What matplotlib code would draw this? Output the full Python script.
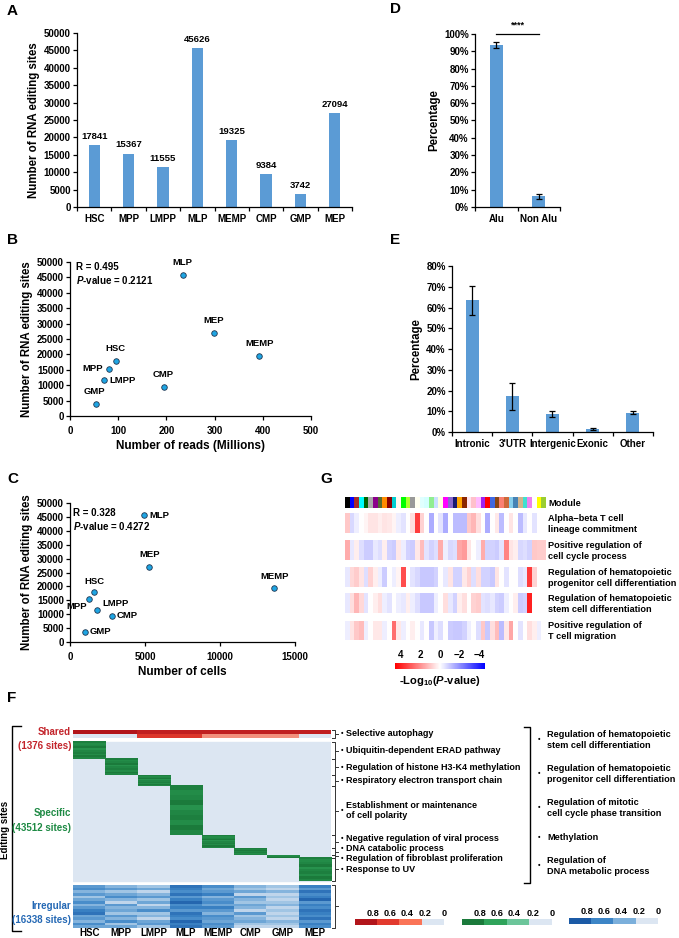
import numpy as np
import matplotlib
matplotlib.use('Agg')
import matplotlib.pyplot as plt
from matplotlib.colors import LinearSegmentedColormap, ListedColormap, Normalize
from matplotlib.cm import ScalarMappable
from matplotlib.patches import Rectangle
from matplotlib.ticker import FuncFormatter

plt.rcParams['font.family'] = ['Liberation Sans', 'DejaVu Sans']
plt.rcParams['font.weight'] = 'bold'
plt.rcParams['axes.labelweight'] = 'bold'
plt.rcParams['mathtext.fontset'] = 'custom'
plt.rcParams['mathtext.rm'] = 'Liberation Sans:bold'
plt.rcParams['mathtext.it'] = 'Liberation Sans:italic:bold'
plt.rcParams['mathtext.bf'] = 'Liberation Sans:bold'

W, H = 679, 938
BAR = '#5B9BD5'
BG = '#DCE6F2'

# ---- data ----
cells = ['HSC', 'MPP', 'LMPP', 'MLP', 'MEMP', 'CMP', 'GMP', 'MEP']
sites = [17841, 15367, 11555, 45626, 19325, 9384, 3742, 27094]
reads_m = [95, 80, 71, 234, 393, 194, 54, 299]
n_cells = [1620, 1270, 1820, 4930, 13620, 2800, 980, 5290]

alu_cats = ['Alu', 'Non Alu']
alu_pct = [0.936, 0.062]
alu_err = [0.015, 0.016]

reg_cats = ['Intronic', "3'UTR", 'Intergenic', 'Exonic', 'Other']
reg_pct = [0.635, 0.173, 0.087, 0.013, 0.093]
reg_err = [0.070, 0.065, 0.013, 0.005, 0.006]

# F heatmap
shared_rows = [[1.0, 1.0, 0.9, 0.9, 0.9, 0.9, 0.9, 0.9],
               [0.0, 0.0, 0.7, 0.7, 0.25, 0.25, 0.25, 0.0]]
spec_counts = [5322, 5009, 3443, 15339, 4069, 2191, 939, 7200]
spec_stripes = [0.95, 0.85, 0.9, 1.0, 0.8, 0.9, 0.95, 0.85, 1.0, 0.9]
irregular = {
    'HSC':  [0.5, 0.6, 0.3, 0.5, 0.2, 0.4, 0.6, 0.3, 0.5, 0.7, 0.8, 0.4, 0.5, 0.3, 0.6, 0.4],
    'MPP':  [0.3, 0.5, 0.2, 0.4, 0.6, 0.3, 0.1, 0.5, 0.3, 0.4, 0.2, 0.5, 0.3, 0.6, 0.2, 0.4],
    'LMPP': [0.2, 0.4, 0.1, 0.3, 0.5, 0.2, 0.4, 0.1, 0.3, 0.6, 0.2, 0.3, 0.1, 0.4, 0.5, 0.2],
    'MLP':  [0.8, 0.7, 0.6, 0.8, 0.5, 0.7, 0.9, 0.6, 0.7, 0.5, 0.8, 0.7, 0.6, 0.9, 0.7, 0.8],
    'MEMP': [0.6, 0.4, 0.5, 0.7, 0.3, 0.5, 0.6, 0.4, 0.7, 0.5, 0.3, 0.6, 0.5, 0.4, 0.6, 0.5],
    'CMP':  [0.3, 0.2, 0.4, 0.1, 0.5, 0.3, 0.2, 0.4, 0.3, 0.1, 0.5, 0.2, 0.3, 0.4, 0.2, 0.1],
    'GMP':  [0.2, 0.1, 0.3, 0.1, 0.2, 0.1, 0.2, 0.3, 0.1, 0.2, 0.1, 0.2, 0.1, 0.3, 0.2, 0.1],
    'MEP':  [0.7, 0.5, 0.8, 0.6, 0.7, 0.9, 0.5, 0.7, 0.6, 0.8, 0.7, 0.6, 0.8, 0.5, 0.7, 0.6],
}
go_specific = ['Selective autophagy', 'Ubiquitin-dependent ERAD pathway',
               'Regulation of histone H3-K4 methylation', 'Respiratory electron transport chain',
               'Establishment or maintenance\nof cell polarity', 'Negative regulation of viral process',
               'DNA catabolic process', 'Regulation of fibroblast proliferation', 'Response to UV']
go_nudge = [0, 0, 0, 0, 0, -3, -3, 2.5, 0]
go_common = ['Regulation of hematopoietic\nstem cell differentiation',
             'Regulation of hematopoietic\nprogenitor cell differentiation',
             'Regulation of mitotic\ncell cycle phase transition',
             'Methylation', 'Regulation of\nDNA metabolic process']
f_levels = ['0.8', '0.6', '0.4', '0.2', '0']
red_levels = ['#B2151B', '#E23A2E', '#FA7457', BG]
green_levels = ['#1B7A3B', '#2FA35A', '#6CC59A', BG]
blue_levels = ['#1B5AA6', '#3D85C6', '#7BAFDB', BG]

# G heatmap
module_colors = ['#000000', '#0000FF', '#A52A2A', '#00FFFF', '#006400', '#A9A9A9', '#8B008B',
                 '#556B2F', '#FF8C00', '#8B0000', '#00CED1', '#FFFAF0', '#00FF00', '#ADFF2F',
                 '#999999', '#FFFFF0', '#E0FFFF', '#D4FFFF', '#90EE90', '#CAE1FF', '#FFFFE0',
                 '#FF00FF', '#8968CD', '#191970', '#FFA500', '#8B2500', '#FFE4F0', '#FFC0CB',
                 '#FFBBFF', '#A020F0', '#FF0000', '#4169E1', '#8B4513', '#FA8072', '#CD6839',
                 '#87CEEB', '#4682B4', '#D2B48C', '#40E0D0', '#EE82EE', '#FFFFFF', '#FFFF00',
                 '#9ACD32']
go_terms = ['Alpha\u2212beta T cell\nlineage commitment',
            'Positive regulation of\ncell cycle process',
            'Regulation of hematopoietic\nprogenitor cell differentiation',
            'Regulation of hematopoietic\nstem cell differentiation',
            'Positive regulation of\nT cell migration']
g_vals = [
    [1.0, -0.7, -0.3, 0, 0.2, 0.5, 0.5, 0.3, 0.5, 0.4, 0.2, -0.3, -0.5, 0, 0.6, 3.5, 0.8, 0, -1.5, 0, -0.5,
     -1.5, 0, -1.2, -1.2, -1.2, 1.0, 1.3, 0.6, 0, -1.5, 0, 0.4, -1.2, 0, 0.5, 0, -1.2, -0.4, 0, -0.5, 0, 0],
    [1.5, -0.4, 0.3, -0.6, -0.9, -0.9, -0.4, -0.6, 0.3, -0.8, -0.9, 0.4, -0.3, -0.8, -0.9, 0.4, 1.2, -0.5,
     -0.8, -0.6, 1.5, -0.3, -0.7, -0.6, 1.6, 1.8, 0.5, 0, -0.3, 1.5, -0.8, -0.8, -0.9, -0.5, 2.2, 0.5, 0.3,
     -0.7, -0.6, -0.8, 1.0, 0.9, 0.9],
    [-0.4, 0.7, 0.9, 0.5, -0.6, 0.8, 0.3, -0.3, -0.9, 0, -0.3, 0.2, 3.2, 0, -0.5, -0.7, -1.0, -1.0, -1.0,
     -0.8, 0, -0.4, 0.5, -0.8, -0.8, 0.4, 0.8, -0.6, 0.6, -0.8, -0.8, -1.0, 0.5, 0, -0.5, 0, 0, -0.6, -0.4,
     3.5, 0.8, 0, 0],
    [-0.4, 0.6, 1.3, 0.7, -0.5, 0, 0.3, 0.6, -0.3, -0.5, 0, -0.3, -0.4, 0.3, -0.3, -0.6, -1.0, -1.0, -1.0,
     -0.3, 0, 0.6, -0.4, -0.8, 0.3, 0.6, 0, 0.8, 0.9, -0.5, -0.6, -0.4, -0.8, -0.9, -0.3, 0, 0.3, -0.9,
     -0.8, 4.0, 0, 0, 0],
    [-0.3, 0.5, 1.0, 1.2, -0.3, 0, 0.4, 0.4, -0.3, 0, 2.6, 0.4, -0.3, 0, 0.3, 0, -0.4, 0, -1.0, -0.3, -0.6,
     0, -0.9, -1.0, -1.0, -0.8, -0.3, 0, -0.6, 1.0, -1.0, 0.6, 1.2, -1.2, 0.4, 1.6, 0, -0.5, 0, 0.6, 0.3,
     -0.3, 0],
]
g_ticks = [4, 2, 0, -2, -4]

fig = plt.figure(figsize=(W / 100, H / 100), dpi=100)


def ax_px(l, t, r, b):
    return fig.add_axes([l / W, 1 - b / H, (r - l) / W, (b - t) / H])


def style(ax):
    for s in ['top', 'right']:
        ax.spines[s].set_visible(False)
    for s in ['left', 'bottom']:
        ax.spines[s].set_linewidth(0.9)
    ax.tick_params(direction='out', length=3, width=0.9, labelsize=7, pad=1.5)


def cat_axis(ax, labels, fs=7):
    n = len(labels)
    ax.set_xlim(-0.5, n - 0.5)
    ax.set_xticks(range(n))
    ax.set_xticklabels(labels, fontsize=fs)
    ax.set_xticks(np.arange(-0.5, n, 1), minor=True)
    ax.tick_params(axis='x', which='major', length=0, pad=5)
    ax.tick_params(axis='x', which='minor', length=3, width=0.9)


pct = FuncFormatter(lambda v, p: '%d%%' % round(v * 100))

# ---- A ----
axA = ax_px(77, 33, 352, 207)
style(axA)
x = np.arange(len(cells))
axA.bar(x, sites, width=0.33, color=BAR)
for xi, v in zip(x, sites):
    axA.text(xi, v + 1200, str(v), ha='center', va='bottom', fontsize=6.8)
axA.set_ylim(0, 50000)
axA.set_yticks(range(0, 50001, 5000))
cat_axis(axA, cells)
axA.set_ylabel('Number of RNA editing sites', fontsize=8.3, labelpad=3)

# ---- D ----
axD = ax_px(475, 34, 560, 207)
style(axD)
axD.bar([0, 1], alu_pct, width=0.31, color=BAR, yerr=alu_err, capsize=2,
        error_kw=dict(elinewidth=0.9, capthick=0.9))
axD.set_ylim(0, 1.0)
axD.set_yticks(np.arange(0, 1.01, 0.1))
axD.yaxis.set_major_formatter(pct)
cat_axis(axD, alu_cats)
axD.set_ylabel('Percentage', fontsize=8.3, labelpad=3)
axD.plot([0, 1], [1.0, 1.0], color='black', lw=0.9, clip_on=False)
axD.text(0.5, 1.025, '****', ha='center', va='bottom', fontsize=6.5)

# ---- B ----
point_kw = dict(s=16, color='#1EA5E3', edgecolors='#1F3550', linewidths=0.6, zorder=3)
axB = ax_px(70, 262, 311, 416)
style(axB)
axB.scatter(reads_m, sites, **point_kw)
axB.set_xlim(0, 500)
axB.set_ylim(0, 50000)
axB.set_xticks(range(0, 501, 100))
axB.set_yticks(range(0, 50001, 5000))
axB.tick_params(axis='x', pad=4)
axB.set_xlabel('Number of reads (Millions)', fontsize=8.5, labelpad=3)
axB.set_ylabel('Number of RNA editing sites', fontsize=8.3, labelpad=3)
axB.text(0.025, 0.965, 'R = 0.495', transform=axB.transAxes, fontsize=7, va='center')
axB.text(0.025, 0.88, r'$P$-value = 0.2121', transform=axB.transAxes, fontsize=7, va='center')
b_off = {'HSC': (0, 9, 'center'), 'MPP': (-4, 0, 'right'), 'LMPP': (4, 0, 'left'),
         'MLP': (0, 9.5, 'center'), 'MEMP': (0, 9, 'center'), 'CMP': (0, 9, 'center'),
         'GMP': (-1, 9, 'center'), 'MEP': (0, 9, 'center')}
for name, xv, yv in zip(cells, reads_m, sites):
    dx, dy, ha = b_off[name]
    axB.annotate(name, (xv, yv), xytext=(dx, dy), textcoords='offset points',
                 ha=ha, va='center', fontsize=6.8)

# ---- C ----
axC = ax_px(70, 503, 295, 642)
style(axC)
axC.scatter(n_cells, sites, **point_kw)
axC.set_xlim(0, 15000)
axC.set_ylim(0, 50000)
axC.set_xticks(range(0, 15001, 5000))
axC.set_yticks(range(0, 50001, 5000))
axC.tick_params(axis='x', pad=4)
axC.set_xlabel('Number of cells', fontsize=8.5, labelpad=3)
axC.set_ylabel('Number of RNA editing sites', fontsize=8.3, labelpad=3)
axC.text(0.015, 0.925, 'R = 0.328', transform=axC.transAxes, fontsize=7, va='center')
axC.text(0.015, 0.835, r'$P$-value = 0.4272', transform=axC.transAxes, fontsize=7, va='center')
c_off = {'HSC': (0, 7.5, 'center'), 'MPP': (-1.5, -5, 'right'), 'LMPP': (3.5, 4.5, 'left'),
         'MLP': (4, 0, 'left'), 'MEMP': (0, 8.5, 'center'), 'CMP': (3.5, 0, 'left'),
         'GMP': (3.5, 0, 'left'), 'MEP': (0, 8.5, 'center')}
for name, xv, yv in zip(cells, n_cells, sites):
    dx, dy, ha = c_off[name]
    axC.annotate(name, (xv, yv), xytext=(dx, dy), textcoords='offset points',
                 ha=ha, va='center', fontsize=6.8)

# ---- E ----
axE = ax_px(452, 266, 653, 432)
style(axE)
axE.bar(range(5), reg_pct, width=0.32, color=BAR, yerr=reg_err, capsize=2,
        error_kw=dict(elinewidth=0.9, capthick=0.9))
axE.set_ylim(0, 0.8)
axE.set_yticks(np.arange(0, 0.81, 0.1))
axE.yaxis.set_major_formatter(pct)
cat_axis(axE, reg_cats)
axE.set_ylabel('Percentage', fontsize=8.3, labelpad=3)

# ---- G ----
gcmap = LinearSegmentedColormap.from_list('g', ['#0000FF', '#FFFFFF', '#FF0000'])
gnorm = Normalize(-4.6, 4.6)
ncol = len(module_colors)
axG = ax_px(345, 497, 546, 640)
axG.axis('off')
mod_rgb = np.array([matplotlib.colors.to_rgb(c) for c in module_colors])[None, :, :]
axG.imshow(mod_rgb, aspect='auto', extent=(0, ncol, 508, 497), interpolation='nearest')
row_tops = [514, 541, 568, 594, 621]
for top, vals in zip(row_tops, g_vals):
    axG.imshow(np.array(vals)[None, :], cmap=gcmap, norm=gnorm, aspect='auto',
               extent=(0, ncol, top + 19.5, top), interpolation='nearest')
axG.set_xlim(0, ncol)
axG.set_ylim(640, 497)

caxG = ax_px(395, 663, 485, 669)
cb = fig.colorbar(ScalarMappable(gnorm, gcmap), cax=caxG, orientation='horizontal')
cb.outline.set_visible(False)
caxG.invert_xaxis()
caxG.xaxis.set_ticks_position('top')
cb.set_ticks(g_ticks)
cb.set_ticklabels([str(t).replace('-', '\u2212') for t in g_ticks])
caxG.tick_params(length=0, labelsize=7, pad=2)

# ---- F ----
red_cmap = LinearSegmentedColormap.from_list('r', red_levels[::-1])
green_cmap = LinearSegmentedColormap.from_list('gr', green_levels[::-1])
blue_cmap = LinearSegmentedColormap.from_list('b', blue_levels[::-1])

F_TOP, SH_BOT, SP_TOP, SP_BOT, IR_TOP, F_BOT = 730, 738, 742, 881, 885, 928
axF = ax_px(73, F_TOP, 331, F_BOT)
axF.axis('off')
axF.imshow(np.array(shared_rows), cmap=red_cmap, vmin=0, vmax=1, aspect='auto',
           extent=(0, 8, SH_BOT, F_TOP), interpolation='nearest')
axF.add_patch(Rectangle((0, SP_TOP), 8, SP_BOT - SP_TOP, color=BG, zorder=0))
edges = SP_TOP + np.concatenate([[0], np.cumsum(spec_counts)]) * (SP_BOT - SP_TOP) / sum(spec_counts)
for i in range(len(spec_counts)):
    axF.imshow(np.array(spec_stripes)[:, None], cmap=green_cmap, vmin=0, vmax=1, aspect='auto',
               extent=(i, i + 1, edges[i + 1], edges[i]), interpolation='nearest')
irr = np.array([irregular[c] for c in cells]).T
axF.imshow(irr, cmap=blue_cmap, vmin=0, vmax=1, aspect='auto',
           extent=(0, 8, F_BOT, IR_TOP), interpolation='nearest')
axF.set_xlim(0, 8)
axF.set_ylim(F_BOT, F_TOP)

# F colour keys
for (l, r, t, b), cols in zip([(355, 444, 919, 925), (462, 552, 919, 925), (569, 658, 918, 924)],
                              [red_levels, green_levels, blue_levels]):
    k = ax_px(l, t, r, b)
    k.imshow(np.arange(4)[None, :], cmap=ListedColormap(cols), aspect='auto',
             interpolation='nearest', vmin=0, vmax=3)
    k.axis('off')

# ---- overlay: letters, brackets, labels ----
ov = fig.add_axes([0, 0, 1, 1])
ov.set_xlim(0, W)
ov.set_ylim(H, 0)
ov.axis('off')
for letter, lx, ly in [('A', 7, 11), ('D', 390, 9), ('B', 7, 240), ('E', 390, 240),
                       ('C', 7, 479), ('G', 320, 479), ('F', 7, 698)]:
    ov.text(lx, ly, letter, fontsize=11, ha='left', va='center')

# G labels
ov.text(548, 503, 'Module', fontsize=6.7, va='center')
for top, term in zip(row_tops, go_terms):
    ov.text(548, top + 10, term, fontsize=6.6, va='center', linespacing=1.2)
ov.text(440, 681, r'-Log$_{10}$($P$-value)', fontsize=8, ha='center', va='center')

# F labels, left side
for txt, col, y1, y2 in [('Shared', '#C3242B', 732, 746), ('Specific', '#1E8A44', 813, 828),
                         ('Irregular', '#2468B4', 906, 920)]:
    ov.text(71, y1, txt, color=col, fontsize=7, ha='right', va='center')
    ov.text(71, y2, '(%s sites)' % {'Shared': '1376', 'Specific': '43512', 'Irregular': '16338'}[txt],
            color=col, fontsize=7, ha='right', va='center')
ov.plot([21, 12, 12, 21], [726, 726, 931, 931], color='black', lw=1.0)
ov.text(5, 830, 'Editing sites', rotation=90, fontsize=7, ha='center', va='center')
for i, c in enumerate(cells):
    ov.text(73 + (i + 0.5) * 258 / 8, 932.5, c, fontsize=7, ha='center', va='center')

# F brackets and specific terms
blocks = [(F_TOP, SH_BOT)] + [(edges[i], edges[i + 1]) for i in range(8)] + [(IR_TOP, F_BOT)]
for j, (t, b) in enumerate(blocks):
    ov.plot([331.5, 335, 335, 331.5], [t + 0.3, t + 0.3, b - 0.3, b - 0.3], color='#333333', lw=0.7)
    m = (t + b) / 2
    ov.plot([335, 338], [m, m], color='#333333', lw=0.7)
    if j < len(go_specific):
        ty = m + go_nudge[j]
        ov.text(341, ty, '\u2022', fontsize=5, va='center', ha='left')
        ov.text(346, ty, go_specific[j], fontsize=6.5, va='center', ha='left', linespacing=1.1)

# F common terms
ov.plot([524, 530, 530, 524], [727, 727, 883, 883], color='black', lw=1.0)
for y, term in zip([740, 774, 808, 838, 866], go_common):
    ov.text(538, y, '\u2022', fontsize=5, va='center', ha='left')
    ov.text(547, y, term, fontsize=6.6, va='center', ha='left', linespacing=1.15)

# F key labels
for l, w, y in [(355, 89, 913), (462, 90, 913), (569, 89, 912)]:
    for f, lab in zip([0.2, 0.39, 0.58, 0.79, 1.0], f_levels):
        ov.text(l + f * w, y, lab, fontsize=6.6, ha='center', va='center')

fig.savefig('out.png', dpi=100)
